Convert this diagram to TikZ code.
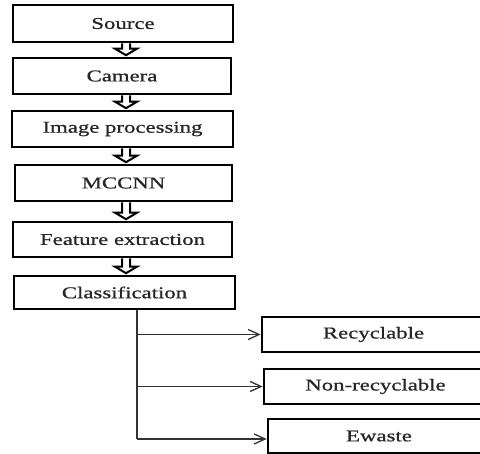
\documentclass[tikz,border=0pt]{standalone}
\usepackage{fontspec}
\setmainfont{Liberation Serif}[FakeStretch=1.38,FakeBold=0.8]
\usetikzlibrary{arrows.meta,calc}
\tikzset{
  box/.style={draw=black, line width=2.6pt, rectangle, inner sep=0pt,
    font=\fontsize{16.5}{18}\selectfont, text=black!85},
  hollow/.style={draw=black, line width=2pt, fill=white, line join=miter},
  branch/.style={draw=black!80, line width=1.3pt},
  tip/.style={-{Straight Barb[length=11pt,width=10pt,line width=1.3pt]}},
}
\newcommand\harrow[2]{%
  \path[hollow] let \p1=(#1.south), \p2=(#2.north) in
    (126-4,\y1) -- (126-4,\y2+8) -- (126-11,\y2+8) -- (126,\y2+1.5)
    -- (126+11,\y2+8) -- (126+4,\y2+8) -- (126+4,\y1);}
\begin{document}
\begin{tikzpicture}[x=1pt,y=-1pt]
\clip (0,0) rectangle (480,454);
\fill[white] (0,0) rectangle (480,454);
\node[box, minimum width=220pt, minimum height=37pt] (src) at (123,23.5) {Source};
\node[box, minimum width=218pt, minimum height=36pt] (cam) at (122,76) {Camera};
\node[box, minimum width=221pt, minimum height=36pt] (img) at (122.5,129) {Image processing};
\node[box, minimum width=217pt, minimum height=36pt] (mcc) at (123.5,183) {MCCNN};
\node[box, minimum width=219pt, minimum height=35pt] (fea) at (122.5,239.5) {Feature extraction};
\node[box, minimum width=221pt, minimum height=33pt] (cls) at (124.5,292.5) {Classification};
\node[box, minimum width=223pt, minimum height=35pt] (rec) at (373.5,334.5) {Recyclable};
\node[box, minimum width=223pt, minimum height=35pt] (non) at (375.5,386.5) {Non-recyclable};
\node[box, minimum width=222pt, minimum height=34pt] (ewa) at (379,436) {Ewaste};
\harrow{src}{cam}
\harrow{cam}{img}
\harrow{img}{mcc}
\harrow{mcc}{fea}
\harrow{fea}{cls}
\coordinate (trunk) at (137,439);
\path[branch] (cls.south -| trunk) -- (trunk);
\path[branch,tip] (trunk |- rec.west) -- (rec.west);
\path[branch,tip] (trunk |- non.west) -- (non.west);
\path[branch,tip] (trunk) -- (trunk -| ewa.west);
\end{tikzpicture}
\end{document}
